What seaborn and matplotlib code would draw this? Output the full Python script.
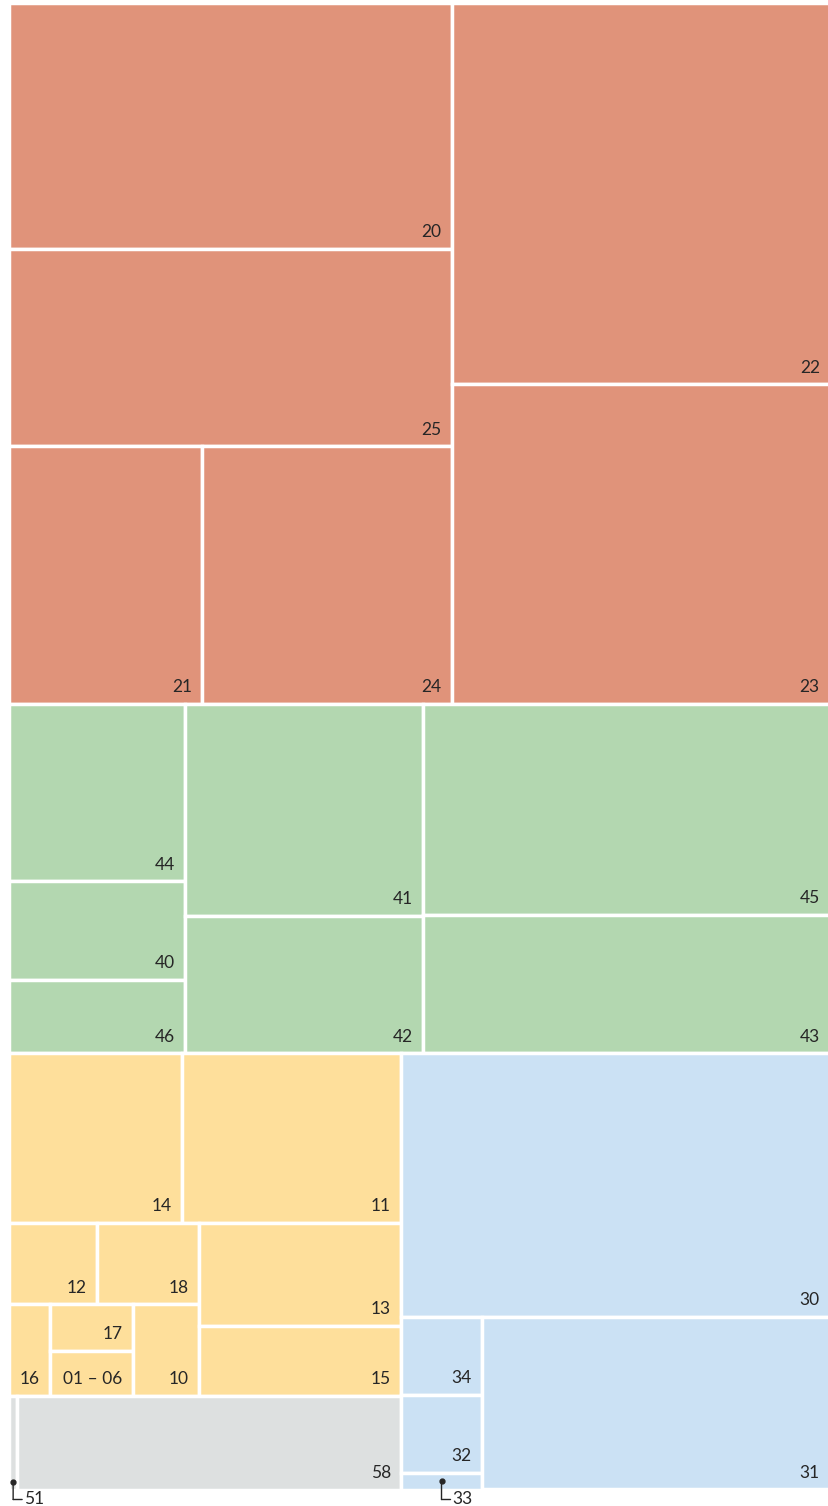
import matplotlib
matplotlib.use("Agg")
import matplotlib.pyplot as plt
import seaborn as sns
from matplotlib.patches import Rectangle
from matplotlib.transforms import offset_copy

sns.set_theme(style="white")
plt.rcParams['font.family'] = ['Lato', 'DejaVu Sans']

# ---- data (share of total, %) ----
red_codes = ["20", "25", "21", "24", "22", "23"]
red_values = [8.91, 7.16, 4.07, 5.25, 11.83, 9.90]

green_codes = ["44", "40", "46", "41", "42", "45", "43"]
green_values = [2.56, 1.42, 1.06, 4.15, 2.69, 7.05, 4.61]

yellow_codes = ["14", "11", "12", "18", "16", "17", "01 – 06", "10", "13", "15"]
yellow_values = [2.40, 3.05, 0.585, 0.683, 0.304, 0.315, 0.305, 0.495, 1.70, 1.16]

grey_codes = ["51", "58"]
grey_values = [0.060, 2.96]

blue_codes = ["30", "34", "32", "33", "31"]
blue_values = [9.26, 0.514, 0.514, 0.111, 4.93]

callout_codes = ["51", "33"]

group_colors = {"red": "#E0937A", "green": "#B3D7B0", "yellow": "#FEDF9B",
                "grey": "#DDE0E0", "blue": "#CBE1F4"}

values = {}
colors = {}
for name, cs, vs in [("red", red_codes, red_values), ("green", green_codes, green_values),
                     ("yellow", yellow_codes, yellow_values), ("grey", grey_codes, grey_values),
                     ("blue", blue_codes, blue_values)]:
    for c, v in zip(cs, vs):
        values[c] = v
        colors[c] = group_colors[name]

# ---- slice-and-dice tree ('h' = side by side, 'v' = stacked) ----
tree = ("v", [
    ("h", [("v", ["20", "25", ("h", ["21", "24"])]),
           ("v", ["22", "23"])]),
    ("h", [("v", ["44", "40", "46"]),
           ("v", ["41", "42"]),
           ("v", ["45", "43"])]),
    ("h", [("v", [("v", [("h", ["14", "11"]),
                         ("h", [("v", [("h", ["12", "18"]),
                                       ("h", ["16", ("v", ["17", "01 – 06"]), "10"])]),
                                ("v", ["13", "15"])])]),
                  ("h", ["51", "58"])]),
           ("v", ["30", ("h", [("v", ["34", "32", "33"]), "31"])])]),
])


def total(node):
    if isinstance(node, str):
        return values[node]
    return sum(total(k) for k in node[1])


def layout(node, x0, y0, x1, y1, out):
    if isinstance(node, str):
        out[node] = (x0, y0, x1, y1)
        return
    d, kids = node
    tot = total(node)
    pos = x0 if d == "h" else y0
    for k in kids:
        frac = total(k) / tot
        if d == "h":
            w = (x1 - x0) * frac
            layout(k, pos, y0, pos + w, y1, out)
            pos += w
        else:
            h = (y1 - y0) * frac
            layout(k, x0, pos, x1, pos + h, out)
            pos += h


rects = {}
layout(tree, 0.0, 0.0, 1.0, 1.0, rects)

W, H = 829, 1506
fig = plt.figure(figsize=(W / 100, H / 100), dpi=100)
fig.patch.set_facecolor("white")
ax = fig.add_axes([9.25 / W, (H - 1489.5) / H, 820.75 / W, 1486.25 / H])
ax.set_xlim(0, 1)
ax.set_ylim(1, 0)
ax.axis("off")

text_color = "#262626"
for code, (x0, y0, x1, y1) in rects.items():
    ax.add_patch(Rectangle((x0, y0), x1 - x0, y1 - y0, facecolor=colors[code],
                           edgecolor="white", linewidth=2.5, clip_on=False))
    if code not in callout_codes:
        ax.annotate(code, xy=(x1, y1), xytext=(-7.4, 8.4), textcoords="offset points",
                    ha="right", va="baseline", fontsize=12.5, color=text_color)

for code in callout_codes:
    x0, y0, x1, y1 = rects[code]
    cx = (x0 + x1) / 2
    t_dot = offset_copy(ax.transData, fig=fig, x=0, y=8, units="dots")
    ax.plot([cx], [y1], marker="o", markersize=3.5, color=text_color, transform=t_dot,
            clip_on=False)
    t_bot = offset_copy(ax.transData, fig=fig, x=0, y=-10, units="dots")
    t_end = offset_copy(ax.transData, fig=fig, x=9, y=-10, units="dots")
    ax.annotate("", xy=(cx, y1), xycoords=t_dot, xytext=(cx, y1), textcoords=t_bot,
                arrowprops=dict(arrowstyle="-", color=text_color, lw=1.0,
                                shrinkA=0, shrinkB=0))
    ax.annotate("", xy=(cx, y1), xycoords=t_bot, xytext=(cx, y1), textcoords=t_end,
                arrowprops=dict(arrowstyle="-", color=text_color, lw=1.0,
                                shrinkA=0, shrinkB=0))
    t_lab = offset_copy(ax.transData, fig=fig, x=11, y=-14.5, units="dots")
    ax.text(cx, y1, code, transform=t_lab, ha="left", va="baseline", fontsize=12.5,
            color=text_color, clip_on=False)

fig.savefig("out.png", dpi=100, facecolor="white")
